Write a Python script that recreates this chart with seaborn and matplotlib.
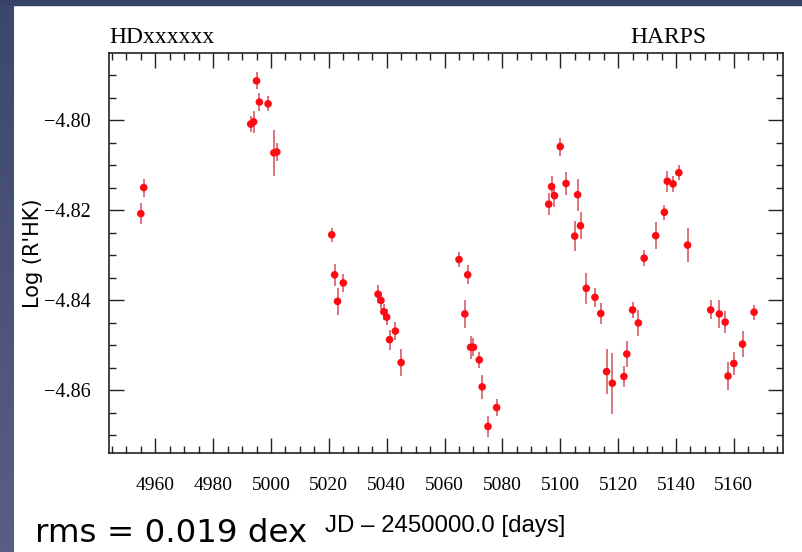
import numpy as np
import pandas as pd
import matplotlib
matplotlib.use('Agg')
import matplotlib.pyplot as plt
from matplotlib.ticker import MultipleLocator, FuncFormatter
import seaborn as sns

# activity index time series
jd = [4955, 4956, 4993, 4994, 4995, 4996, 4999, 5001, 5002,
      5021, 5022, 5023, 5025, 5037, 5038, 5039, 5040, 5041, 5043, 5045,
      5065, 5067, 5068, 5069, 5070, 5072, 5073, 5075, 5078,
      5096, 5097, 5098, 5100, 5102, 5105, 5106, 5107, 5109, 5112, 5114,
      5116, 5118, 5122, 5123, 5125, 5127, 5129, 5133, 5136, 5137, 5139,
      5141, 5144, 5152, 5155, 5157, 5158, 5160, 5163, 5167]
logrhk = [-4.8208, -4.8150, -4.8009, -4.8004, -4.7913, -4.7960, -4.7964, -4.8073, -4.8071,
          -4.8255, -4.8344, -4.8403, -4.8362, -4.8387, -4.8401, -4.8426, -4.8438, -4.8488, -4.8469, -4.8539,
          -4.8310, -4.8431, -4.8344, -4.8505, -4.8505, -4.8533, -4.8593, -4.8681, -4.8639,
          -4.8187, -4.8148, -4.8168, -4.8059, -4.8141, -4.8258, -4.8166, -4.8235, -4.8374, -4.8394, -4.8430,
          -4.8559, -4.8585, -4.8570, -4.8520, -4.8422, -4.8451, -4.8307, -4.8257, -4.8205, -4.8136, -4.8142,
          -4.8117, -4.8278, -4.8422, -4.8431, -4.8449, -4.8569, -4.8541, -4.8498, -4.8427]
err = [0.0024, 0.0020, 0.0017, 0.0024, 0.0019, 0.0019, 0.0017, 0.0051, 0.0019,
       0.0015, 0.0025, 0.0030, 0.0020, 0.0020, 0.0018, 0.0018, 0.0018, 0.0022, 0.0020, 0.0030,
       0.0017, 0.0032, 0.0021, 0.0026, 0.0020, 0.0017, 0.0027, 0.0024, 0.0018,
       0.0025, 0.0023, 0.0025, 0.0020, 0.0026, 0.0033, 0.0036, 0.0030, 0.0035, 0.0021, 0.0023,
       0.0050, 0.0068, 0.0023, 0.0028, 0.0017, 0.0029, 0.0018, 0.0030, 0.0017, 0.0023, 0.0017,
       0.0017, 0.0037, 0.0021, 0.0031, 0.0025, 0.0031, 0.0025, 0.0029, 0.0017]

df = pd.DataFrame({'jd': jd, 'rhk': logrhk, 'err': err})

sns.set_style('ticks')
plt.rcParams['font.family'] = ['Liberation Serif', 'DejaVu Serif']
plt.rcParams['text.color'] = 'black'
plt.rcParams['xtick.color'] = '#222222'
plt.rcParams['ytick.color'] = '#222222'
plt.rcParams['xtick.labelcolor'] = 'black'
plt.rcParams['ytick.labelcolor'] = 'black'

fig = plt.figure(figsize=(8.03, 5.52), dpi=100)
fig.patch.set_facecolor('white')

# slide background bands (top and left)
fig.patches.append(plt.Rectangle((0, 1 - 5 / 552), 1, 5 / 552, transform=fig.transFigure,
                                 color='#37426a', zorder=-10))
band = fig.add_axes([0, 0, 14 / 803, 1 - 5 / 552])
grad = np.linspace(0, 1, 100).reshape(-1, 1)
band.imshow(grad, aspect='auto', cmap=matplotlib.colors.LinearSegmentedColormap.from_list(
    'bg', ['#3c4770', '#5a5e86']), origin='upper')
band.axis('off')

ax = fig.add_axes([109 / 803, 1 - 453 / 552, 674 / 803, 400 / 552])
ax.set_facecolor('white')

ax.errorbar(df['jd'], df['rhk'], yerr=df['err'], fmt='none', ecolor='#d24f5c',
            elinewidth=1.1, capsize=0, zorder=2)
sns.scatterplot(data=df, x='jd', y='rhk', ax=ax, color='#ff0a12', s=30,
                edgecolor='none', zorder=3, legend=False)

ax.set_xlim(4944, 5177)
ax.set_ylim(-4.874, -4.7851)

ax.xaxis.set_major_locator(MultipleLocator(20))
ax.xaxis.set_minor_locator(MultipleLocator(5))
ax.yaxis.set_major_locator(MultipleLocator(0.02))
ax.yaxis.set_minor_locator(MultipleLocator(0.005))
ax.yaxis.set_major_formatter(FuncFormatter(lambda v, p: ('%.2f' % v).replace('-', '\u2212')))

ax.tick_params(which='both', direction='in', top=True, right=True, width=1.0)
ax.tick_params(which='major', length=11)
ax.tick_params(which='minor', length=5.3)
ax.tick_params(axis='x', which='major', pad=17, labelsize=14)
ax.tick_params(axis='y', which='major', pad=13, labelsize=14.5)
for sp in ax.spines.values():
    sp.set_color('#222222')
    sp.set_linewidth(1.2)

ax.set_xlabel('')
ax.set_ylabel('')

ax.text(0.0, 1.012, 'HDxxxxxx', transform=ax.transAxes, ha='left', va='bottom', fontsize=17)
ax.text(0.887, 1.012, 'HARPS', transform=ax.transAxes, ha='right', va='bottom', fontsize=17)

fig.text(33 / 803, 1 - 253 / 552, "Log (R'HK)", rotation=90, ha='center', va='center',
         fontsize=15, family=['DejaVu Sans'])
fig.text(325 / 803, 1 - 532 / 552, 'JD \u2013 2450000.0 [days]', ha='left', va='baseline',
         fontsize=17.3, family=['Liberation Sans', 'DejaVu Sans'])
fig.text(35 / 803, 1 - 542 / 552, 'rms = 0.019 dex', ha='left', va='baseline',
         fontsize=23.4, family=['DejaVu Sans'])

fig.savefig('out.png', dpi=100, facecolor=fig.get_facecolor())
